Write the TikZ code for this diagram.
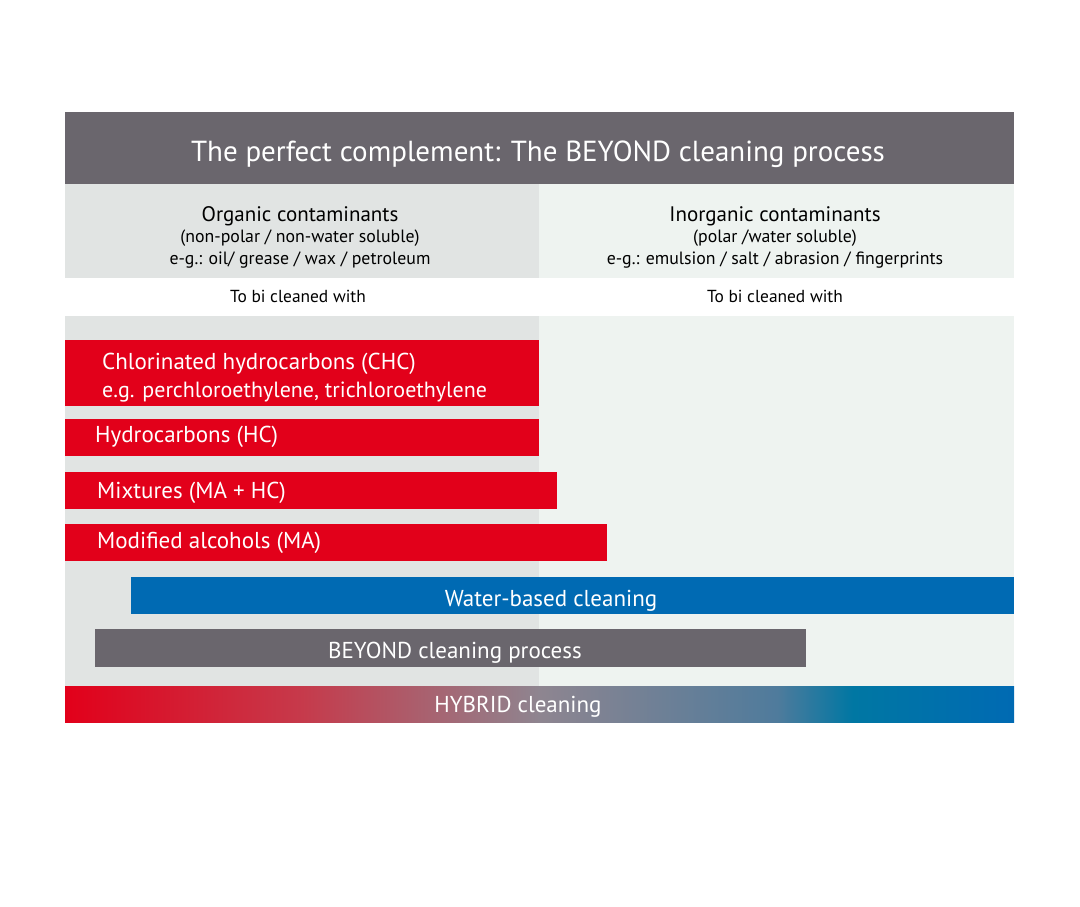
\documentclass[tikz,border=0pt]{standalone}
\usepackage{fontspec}
\setmainfont{PT Sans}
\usetikzlibrary{positioning}
\definecolor{hdrgrey}{HTML}{6A666D}
\definecolor{leftbg}{HTML}{E1E4E3}
\definecolor{rightbg}{HTML}{EEF3F0}
\definecolor{dred}{HTML}{E2001A}
\definecolor{dblue}{HTML}{006AB3}
\definecolor{hmidA}{HTML}{C63A4B}
\definecolor{hmidB}{HTML}{8E8590}
\definecolor{hmidC}{HTML}{4F7B9C}
\definecolor{hteal}{HTML}{0077A3}
\pgfdeclarehorizontalshading{hybridshade}{100bp}{color(0bp)=(dred); color(25bp)=(dred); color(37.5bp)=(hmidA); color(50bp)=(hmidB); color(62.5bp)=(hmidC); color(66.5bp)=(hteal); color(75bp)=(dblue); color(100bp)=(dblue)}
\tikzset{
  bar/.style={anchor=north west, inner sep=0pt, outer sep=0pt, draw=none},
  bartext/.style={anchor=base west, inner sep=0pt, text=white, font=\fontsize{23}{27}\selectfont},
  ctrtext/.style={anchor=base, inner sep=0pt, text=white, font=\fontsize{23}{27}\selectfont},
  headtext/.style={anchor=base, inner sep=0pt, text=black, font=\fontsize{21}{25}\selectfont},
  smalltext/.style={anchor=base, inner sep=0pt, text=black, font=\fontsize{17.8}{21}\selectfont},
}
\begin{document}
\begin{tikzpicture}[x=1pt,y=-1pt]
\useasboundingbox[fill=white] (0,0) rectangle (1080,907);
% column backgrounds
\node[bar, fill=leftbg, minimum width=474pt, minimum height=94pt] (lhead) at (65,184) {};
\node[bar, fill=rightbg, minimum width=475pt, minimum height=94pt] (rhead) at (539,184) {};
\node[bar, fill=white, minimum width=949pt, minimum height=38pt] (wrow) at (65,278) {};
\node[bar, fill=leftbg, minimum width=474pt, minimum height=370pt] (lbody) at (65,316) {};
\node[bar, fill=rightbg, minimum width=475pt, minimum height=370pt] (rbody) at (539,316) {};
% header
\node[bar, fill=hdrgrey, minimum width=949pt, minimum height=72pt] (hdr) at (65,112) {};
\node[anchor=base, inner sep=0pt, text=white, font=\fontsize{29}{34}\selectfont] (title) at (538,161) {The perfect complement: The BEYOND cleaning process};
% column headings
\node[headtext] (org) at (300,221) {Organic contaminants};
\node[smalltext] (org2) at (300,242) {(non-polar / non-water soluble)};
\node[smalltext] (org3) at (300,264) {e-g.: oil/ grease / wax / petroleum};
\node[headtext] (inorg) at (775,221) {Inorganic contaminants};
\node[smalltext] (inorg2) at (775,242) {(polar /water soluble)};
\node[smalltext] (inorg3) at (775,264) {e-g.: emulsion / salt / abrasion / fingerprints};
\node[smalltext, font=\fontsize{17.4}{20}\selectfont] (tobl) at (298,302) {To bi cleaned with};
\node[smalltext, font=\fontsize{17.4}{20}\selectfont] (tobr) at (775,302) {To bi cleaned with};
% red bars
\node[bar, fill=dred, minimum width=474pt, minimum height=66pt] (chc) at (65,340) {};
\node[bartext] (chct) at (102,369) {Chlorinated hydrocarbons (CHC)};
\node[bartext, font=\fontsize{22}{26}\selectfont] (chct2) at (102,397) {e.g. perchloroethylene, trichloroethylene};
\node[bar, fill=dred, minimum width=474pt, minimum height=37pt] (hc) at (65,419) {};
\node[bartext] (hct) at (95,442) {Hydrocarbons (HC)};
\node[bar, fill=dred, minimum width=492pt, minimum height=37pt] (mix) at (65,472) {};
\node[bartext] (mixt) at (97,498) {Mixtures (MA + HC)};
\node[bar, fill=dred, minimum width=542pt, minimum height=37pt] (ma) at (65,524) {};
\node[bartext] (mat) at (97,548) {Modified alcohols (MA)};
% water-based
\node[bar, fill=dblue, minimum width=883pt, minimum height=37pt] (wat) at (131,577) {};
\node[ctrtext] (watt) at (551,606) {Water-based cleaning};
% beyond
\node[bar, fill=hdrgrey, minimum width=711pt, minimum height=38pt] (bey) at (95,629) {};
\node[ctrtext] (beyt) at (455,658) {BEYOND cleaning process};
% hybrid
\node[bar, shading=hybridshade, minimum width=949pt, minimum height=36pt] (hyb) at (65,686) {};
\node[ctrtext] (hybt) at (518,712) {HYBRID cleaning};
\end{tikzpicture}
\end{document}
